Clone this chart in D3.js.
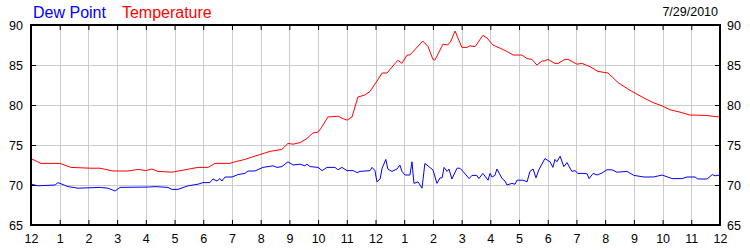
<!DOCTYPE html>
<html>
<head>
<meta charset="utf-8">
<script src="https://cdn.jsdelivr.net/npm/d3@7"></script>
<style>
  body { margin: 0; background: #fff; }
  svg { display: block; font-family: "Liberation Sans", Arial, sans-serif; }
</style>
</head>
<body>
<div id="chart"></div>
<script>
// Dew point / temperature for one day (hours since midnight)

const chartDate = "7/29/2010";
const hourLabels = ["12","1","2","3","4","5","6","7","8","9","10","11","12","1","2","3","4","5","6","7","8","9","10","11","12"];
const yTicks = [65, 70, 75, 80, 85, 90];

const tempHours = [0, 0.35, 1.01, 1.39, 2.05, 2.40, 2.86, 3.38, 3.73, 4.01, 4.21, 4.42, 4.91, 5.36, 5.82, 6.17, 6.41, 6.93, 7.11, 7.45, 7.70, 8.15, 8.32, 8.50, 8.74, 8.95, 9.13, 9.37, 9.61, 9.82, 10.00, 10.14, 10.34, 10.69, 10.87, 11.01, 11.18, 11.39, 11.63, 11.81, 11.98, 12.23, 12.40, 12.78, 12.92, 13.10, 13.20, 13.65, 13.83, 14.00, 14.07, 14.35, 14.52, 14.63, 14.77, 15.01, 15.19, 15.29, 15.47, 15.74, 15.88, 16.09, 16.34, 16.58, 16.79, 17.10, 17.28, 17.45, 17.62, 17.80, 17.90, 18.01, 18.25, 18.36, 18.60, 18.71, 19.02, 19.19, 19.47, 19.75, 20.10, 20.45, 20.79, 21.04, 21.39, 21.67, 21.98, 22.26, 22.61, 22.95, 23.48, 24.0];
const tempValues = [73.3, 72.7, 72.7, 72.2, 72.1, 72.1, 71.75, 71.75, 71.95, 71.8, 72.0, 71.7, 71.6, 71.9, 72.2, 72.2, 72.7, 72.7, 72.9, 73.2, 73.5, 74.0, 74.2, 74.3, 74.45, 75.2, 75.1, 75.3, 75.8, 76.5, 76.6, 77.3, 78.5, 78.6, 78.3, 78.1, 78.5, 81.0, 81.25, 81.7, 82.6, 84.0, 84.0, 85.6, 85.2, 86.25, 86.25, 88.0, 87.3, 85.7, 85.6, 87.6, 87.5, 88.0, 89.25, 87.2, 87.2, 87.4, 87.3, 88.7, 88.4, 87.5, 87.1, 86.7, 86.25, 86.25, 85.8, 85.7, 85.0, 85.5, 85.5, 85.7, 85.2, 85.2, 85.7, 85.7, 85.1, 85.2, 84.8, 84.2, 84.0, 82.8, 82.0, 81.5, 80.8, 80.3, 79.9, 79.4, 79.1, 78.75, 78.7, 78.5];

const dewHours = [0, 0.24, 0.84, 0.94, 1.29, 1.64, 2.40, 2.68, 2.93, 3.10, 4.14, 4.32, 4.77, 4.91, 5.12, 5.47, 5.82, 5.99, 6.23, 6.34, 6.48, 6.58, 6.65, 6.76, 7.00, 7.21, 7.45, 7.56, 7.80, 8.08, 8.43, 8.57, 8.74, 8.95, 9.13, 9.37, 9.54, 9.61, 9.72, 10.00, 10.14, 10.31, 10.59, 10.69, 10.83, 11.01, 11.22, 11.36, 11.46, 11.81, 11.88, 11.98, 12.05, 12.16, 12.23, 12.36, 12.43, 12.57, 12.75, 12.85, 12.92, 13.03, 13.20, 13.27, 13.34, 13.48, 13.62, 13.72, 14.00, 14.14, 14.25, 14.32, 14.39, 14.49, 14.56, 14.66, 14.84, 14.94, 15.05, 15.26, 15.36, 15.53, 15.60, 15.74, 15.92, 15.99, 16.06, 16.16, 16.23, 16.41, 16.51, 16.58, 16.75, 16.86, 16.93, 17.14, 17.28, 17.38, 17.49, 17.59, 17.69, 17.90, 18.08, 18.18, 18.25, 18.32, 18.43, 18.56, 18.67, 18.84, 18.95, 19.05, 19.23, 19.37, 19.44, 19.58, 19.72, 19.89, 20.06, 20.24, 20.41, 20.76, 21.00, 21.35, 21.69, 21.98, 22.33, 22.68, 22.85, 23.13, 23.23, 23.55, 23.73, 23.83, 24.0];
const dewValues = [70.1, 69.9, 70.0, 70.3, 69.8, 69.6, 69.7, 69.6, 69.25, 69.7, 69.75, 69.8, 69.7, 69.45, 69.45, 69.9, 70.1, 70.3, 70.3, 70.75, 70.5, 70.8, 70.5, 71.0, 71.0, 71.3, 71.45, 71.75, 71.75, 72.2, 72.4, 72.2, 72.3, 72.9, 72.5, 72.6, 72.4, 72.6, 72.3, 72.2, 71.8, 72.2, 72.2, 71.9, 72.2, 71.8, 71.8, 71.55, 71.7, 71.8, 72.2, 71.8, 70.4, 70.75, 72.1, 73.2, 72.0, 71.7, 72.0, 72.5, 71.7, 71.25, 71.25, 72.9, 70.2, 70.4, 69.6, 72.7, 71.9, 70.2, 70.9, 70.9, 72.2, 71.7, 72.0, 70.75, 72.1, 72.1, 71.7, 70.8, 71.2, 71.2, 70.8, 71.45, 70.6, 71.45, 71.0, 71.2, 72.0, 70.8, 70.5, 70.0, 70.2, 70.1, 70.6, 70.6, 70.4, 71.7, 72.0, 70.9, 71.9, 73.3, 72.9, 72.2, 73.2, 72.9, 73.6, 72.3, 72.8, 71.7, 71.8, 71.45, 71.45, 71.4, 70.8, 71.45, 71.25, 71.5, 71.9, 71.9, 71.6, 71.7, 71.2, 71.0, 71.0, 71.25, 70.8, 70.8, 71.0, 71.0, 70.75, 70.75, 71.3, 71.15, 71.25];

const width = 750;
const height = 250;
const plotLeft = 31, plotRight = 720, plotTop = 25, plotBottom = 225;

const svg = d3.select("#chart")
    .append("svg")
    .attr("width", width)
    .attr("height", height);

const x = d3.scaleLinear().domain([0, 24]).range([plotLeft, plotRight]);
const y = d3.scaleLinear().domain([65, 90]).range([plotBottom, plotTop]);

// grid
svg.append("g")
    .selectAll("line")
    .data(d3.range(1, 24))
    .join("line")
    .attr("x1", d => Math.round(x(d)) + 0.5)
    .attr("x2", d => Math.round(x(d)) + 0.5)
    .attr("y1", plotTop)
    .attr("y2", plotBottom)
    .attr("stroke", "#cccccc");

svg.append("g")
    .selectAll("line")
    .data(yTicks.slice(1, -1))
    .join("line")
    .attr("x1", plotLeft)
    .attr("x2", plotRight)
    .attr("y1", d => Math.round(y(d)) + 0.5)
    .attr("y2", d => Math.round(y(d)) + 0.5)
    .attr("stroke", "#cccccc");

// series
const line = (hours, values) => d3.line()
    .x((d, i) => x(hours[i]))
    .y(d => y(d))(values);

svg.append("path")
    .attr("d", line(dewHours, dewValues))
    .attr("fill", "none")
    .attr("stroke", "#0000ff")
    .attr("stroke-width", 1);

svg.append("path")
    .attr("d", line(tempHours, tempValues))
    .attr("fill", "none")
    .attr("stroke", "#ff0000")
    .attr("stroke-width", 1);

// axes, ticks pointing inside
const fontSize = "12.5px";
const hourTicks = d3.range(0, 25);

const styleAxis = g => {
    g.select(".domain").remove();
    g.selectAll("line").attr("stroke", "#000");
    g.selectAll("text").attr("fill", "#000").style("font-size", fontSize);
};

svg.append("g")
    .attr("transform", `translate(0,${plotBottom})`)
    .call(d3.axisBottom(x).tickValues(hourTicks).tickFormat((d, i) => hourLabels[i])
        .tickSizeInner(-5).tickSizeOuter(0).tickPadding(9))
    .call(styleAxis);

svg.append("g")
    .attr("transform", `translate(0,${plotTop})`)
    .call(d3.axisTop(x).tickValues(hourTicks).tickFormat("")
        .tickSizeInner(-5).tickSizeOuter(0))
    .call(styleAxis);

svg.append("g")
    .attr("transform", `translate(${plotLeft},0)`)
    .call(d3.axisLeft(y).tickValues(yTicks).tickFormat(d3.format("d"))
        .tickSizeInner(-5).tickSizeOuter(0).tickPadding(8))
    .call(styleAxis);

svg.append("g")
    .attr("transform", `translate(${plotRight},0)`)
    .call(d3.axisRight(y).tickValues(yTicks).tickFormat(d3.format("d"))
        .tickSizeInner(-5).tickSizeOuter(0).tickPadding(7))
    .call(styleAxis);

// frame
svg.append("rect")
    .attr("x", plotLeft)
    .attr("y", plotTop)
    .attr("width", plotRight - plotLeft)
    .attr("height", plotBottom - plotTop)
    .attr("fill", "none")
    .attr("stroke", "#000")
    .attr("stroke-width", 2);

// legend & date
const legend = svg.append("text")
    .attr("x", 33)
    .attr("y", 18)
    .style("font-size", "16px");
legend.append("tspan").attr("fill", "#0000ff").text("Dew Point");
legend.append("tspan").attr("fill", "#ff0000").attr("dx", 16).text("Temperature");

svg.append("text")
    .attr("x", 718)
    .attr("y", 16)
    .attr("text-anchor", "end")
    .attr("fill", "#000")
    .style("font-size", fontSize)
    .text(chartDate);
</script>
</body>
</html>
